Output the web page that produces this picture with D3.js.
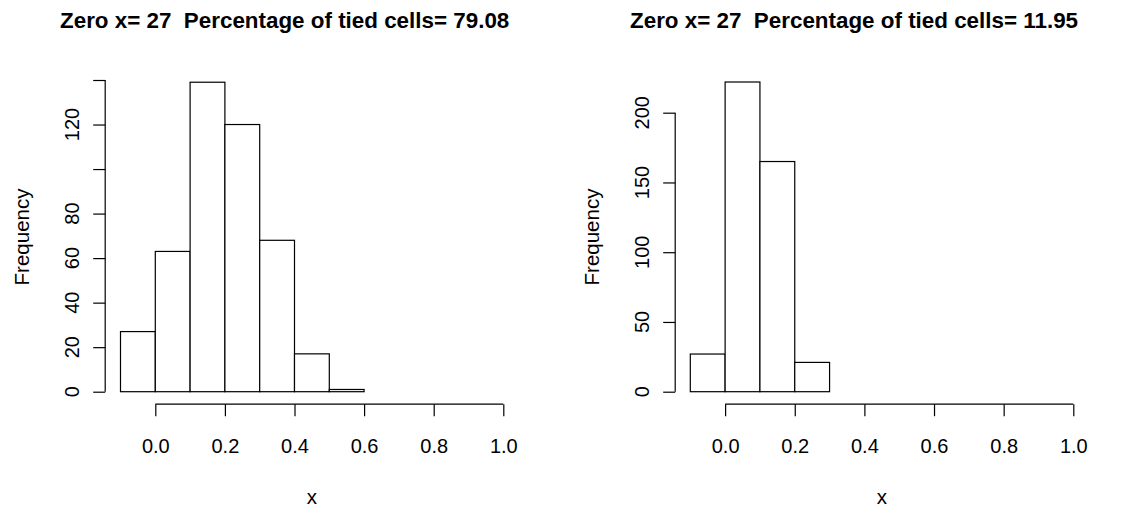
<!DOCTYPE html>
<html>
<head>
<meta charset="utf-8">
<script src="https://cdn.jsdelivr.net/npm/d3@7"></script>
<style>
  html, body { margin: 0; padding: 0; background: #fff; }
  svg { display: block; }
  text { font-family: "Liberation Sans", Arial, Helvetica, sans-serif; fill: #000; white-space: pre; }
</style>
</head>
<body>
<svg id="chart" width="1131" height="510"></svg>
<script>
// ---- data ----
const binBreaks = [-0.1, 0.0, 0.1, 0.2, 0.3, 0.4, 0.5, 0.6, 0.7, 0.8, 0.9, 1.0];
const leftCounts  = [27, 63, 139, 120, 68, 17, 1, 0, 0, 0, 0];
const rightCounts = [27, 222, 165, 21, 0, 0, 0, 0, 0, 0, 0];
const xTicks = [0.0, 0.2, 0.4, 0.6, 0.8, 1.0];
const leftYTicks = [0, 20, 40, 60, 80, 100, 120, 140];
const leftYLabels = [0, 20, 40, 60, 80, 120];
const rightYTicks = [0, 50, 100, 150, 200];
const rightYLabels = [0, 50, 100, 150, 200];
const titles = ["Zero x= 27  Percentage of tied cells= 79.08",
                "Zero x= 27  Percentage of tied cells= 11.95"];
const xLabel = "x";
const yLabel = "Frequency";

// ---- layout ----
const svg = d3.select("#chart");
const panels = [
  { counts: leftCounts, yTicks: leftYTicks, yLabels: leftYLabels, yMax: 140, topPx: 80,
    x0: 120.5, x1: 503.3, yAxisX: 105.2, titleX: 60, ylabX: 79, freqX: 28.5, title: titles[0] },
  { counts: rightCounts, yTicks: rightYTicks, yLabels: rightYLabels, yMax: 200, topPx: 112.7,
    x0: 690.3, x1: 1073.3, yAxisX: 675.2, titleX: 630, ylabX: 649, freqX: 598.5, title: titles[1] }
];
const yBase = 391.7;
const xAxisY = 404.2;
const tickLen = 12;

panels.forEach(p => {
  const g = svg.append("g");
  const x = d3.scaleLinear().domain([binBreaks[0], binBreaks[binBreaks.length - 1]]).range([p.x0, p.x1]);
  const y = d3.scaleLinear().domain([0, p.yMax]).range([yBase, p.topPx]);

  // bars
  const bins = p.counts.map((c, i) => ({ x0: binBreaks[i], x1: binBreaks[i + 1], c }));
  g.selectAll("rect.bar").data(bins).enter().append("rect")
    .attr("class", "bar")
    .attr("x", d => x(d.x0))
    .attr("y", d => y(d.c))
    .attr("width", d => x(d.x1) - x(d.x0))
    .attr("height", d => y(0) - y(d.c))
    .attr("fill", "#fff")
    .attr("stroke", "#000")
    .attr("stroke-width", 1.2);

  // x axis
  const xAxis = d3.axisBottom(x).tickValues(xTicks).tickSize(tickLen).tickSizeOuter(0)
    .tickFormat(d3.format(".1f"));
  const gx = g.append("g").attr("transform", `translate(0,${xAxisY})`).call(xAxis);
  gx.select(".domain").attr("d", `M${x(xTicks[0])},0H${x(xTicks[xTicks.length - 1])}`)
    .attr("stroke", "#000").attr("stroke-width", 1.2);
  gx.selectAll(".tick line").attr("stroke", "#000").attr("stroke-width", 1.2);
  gx.selectAll(".tick text").attr("font-size", 20).attr("font-family", "Liberation Sans, Arial, sans-serif")
    .attr("fill", "#000").attr("y", 453.5 - xAxisY).attr("dy", 0);

  // y axis
  const yAxis = d3.axisLeft(y).tickValues(p.yTicks).tickSize(tickLen).tickSizeOuter(0).tickFormat("");
  const gy = g.append("g").attr("transform", `translate(${p.yAxisX},0)`).call(yAxis);
  gy.select(".domain").attr("d", `M0,${y(p.yTicks[0])}V${y(p.yTicks[p.yTicks.length - 1])}`)
    .attr("stroke", "#000").attr("stroke-width", 1.2);
  gy.selectAll(".tick line").attr("stroke", "#000").attr("stroke-width", 1.2);

  // y labels (rotated)
  g.selectAll("text.ylab").data(p.yLabels).enter().append("text")
    .attr("class", "ylab")
    .attr("x", p.ylabX).attr("y", d => y(d))
    .attr("transform", d => `rotate(-90,${p.ylabX},${y(d)})`)
    .attr("text-anchor", "middle")
    .attr("font-size", 20)
    .text(d => d);

  // axis titles
  const plotMidY = 237;
  g.append("text")
    .attr("x", p.freqX).attr("y", plotMidY)
    .attr("transform", `rotate(-90,${p.freqX},${plotMidY})`)
    .attr("text-anchor", "middle").attr("font-size", 20.5)
    .text(yLabel);
  g.append("text")
    .attr("x", (p.yAxisX + (x(1.0) + (x(1.0) - x(0.9)) * 0.44)) / 2).attr("y", 504)
    .attr("text-anchor", "middle").attr("font-size", 20.5)
    .text(xLabel);

  // main title
  g.append("text")
    .attr("x", p.titleX).attr("y", 28.3)
    .attr("xml:space", "preserve")
    .attr("text-anchor", "start").attr("font-size", 22.4).attr("font-weight", "bold")
    .text(p.title);
});
</script>
</body>
</html>
